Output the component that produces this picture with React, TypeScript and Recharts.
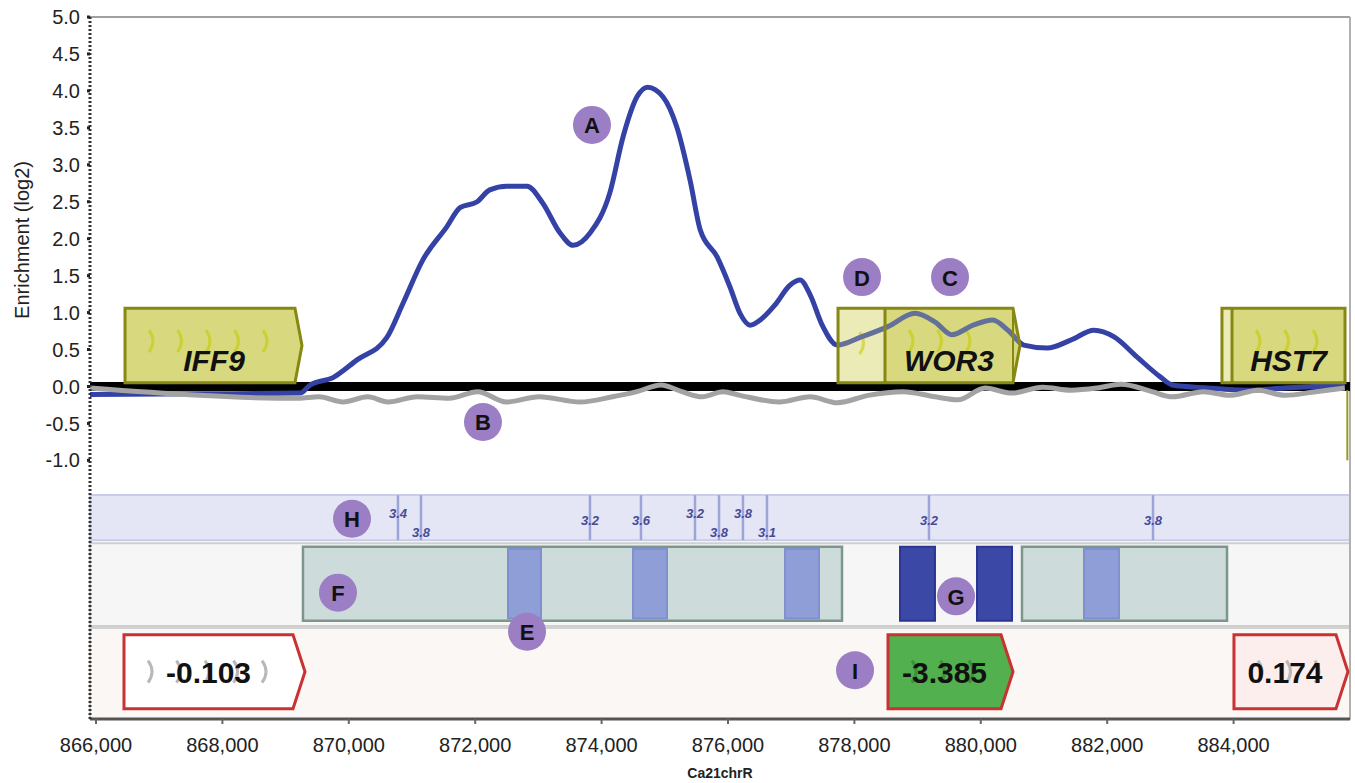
import React from "react";
import { ComposedChart, Line, XAxis, YAxis, ReferenceArea, ReferenceLine, ReferenceDot } from "recharts";

const FONT = '"Liberation Sans", Arial, sans-serif';

// genomic window shown (bp)
const X_MIN = 865905;
const X_MAX = 885842;
const xTicks = [866000, 868000, 870000, 872000, 874000, 876000, 878000, 880000, 882000, 884000];
const yTicks = [-1, -0.5, 0, 0.5, 1, 1.5, 2, 2.5, 3, 3.5, 4, 4.5, 5];

// ChIP enrichment, blue trace (A)
const enrichment = [
  { x: 865905, v: -0.11 }, { x: 867650, v: -0.1 }, { x: 869230, v: -0.09 }, { x: 869390, v: 0.02 },
  { x: 869750, v: 0.12 }, { x: 870130, v: 0.36 }, { x: 870600, v: 0.66 }, { x: 870860, v: 1.13 },
  { x: 871170, v: 1.71 }, { x: 871550, v: 2.16 }, { x: 871760, v: 2.42 }, { x: 872030, v: 2.5 },
  { x: 872230, v: 2.66 }, { x: 872500, v: 2.71 }, { x: 872820, v: 2.71 }, { x: 873070, v: 2.48 },
  { x: 873340, v: 2.08 }, { x: 873550, v: 1.91 }, { x: 873820, v: 2.08 }, { x: 874130, v: 2.62 },
  { x: 874340, v: 3.38 }, { x: 874560, v: 3.92 }, { x: 874730, v: 4.05 }, { x: 874970, v: 3.92 },
  { x: 875190, v: 3.51 }, { x: 875400, v: 2.79 }, { x: 875560, v: 2.12 }, { x: 875830, v: 1.75 },
  { x: 876030, v: 1.35 }, { x: 876190, v: 0.99 }, { x: 876350, v: 0.83 }, { x: 876510, v: 0.9 },
  { x: 876740, v: 1.1 }, { x: 876980, v: 1.37 }, { x: 877140, v: 1.44 }, { x: 877300, v: 1.24 },
  { x: 877490, v: 0.83 }, { x: 877730, v: 0.56 }, { x: 878110, v: 0.67 }, { x: 878530, v: 0.81 },
  { x: 878960, v: 0.99 }, { x: 879280, v: 0.87 }, { x: 879540, v: 0.7 }, { x: 879880, v: 0.83 },
  { x: 880190, v: 0.9 }, { x: 880430, v: 0.76 }, { x: 880680, v: 0.56 }, { x: 881050, v: 0.52 },
  { x: 881430, v: 0.63 }, { x: 881790, v: 0.76 }, { x: 882110, v: 0.67 }, { x: 882470, v: 0.4 },
  { x: 882840, v: 0.13 }, { x: 883030, v: 0.02 }, { x: 883580, v: -0.02 }, { x: 884200, v: -0.05 },
  { x: 884810, v: -0.02 }, { x: 885760, v: 0.02 },
];

// control trace, grey (B)
const control = [
  { x: 865905, v: -0.02 }, { x: 869200, v: -0.16 }, { x: 869530, v: -0.14 }, { x: 869910, v: -0.21 },
  { x: 870300, v: -0.14 }, { x: 870620, v: -0.21 }, { x: 871080, v: -0.14 }, { x: 871590, v: -0.16 },
  { x: 872040, v: -0.07 }, { x: 872490, v: -0.21 }, { x: 873010, v: -0.14 }, { x: 873660, v: -0.21 },
  { x: 874170, v: -0.14 }, { x: 874560, v: -0.07 }, { x: 874940, v: 0.02 }, { x: 875270, v: -0.07 },
  { x: 875590, v: -0.14 }, { x: 875920, v: -0.07 }, { x: 876190, v: -0.12 }, { x: 876810, v: -0.21 },
  { x: 877300, v: -0.14 }, { x: 877730, v: -0.22 }, { x: 878220, v: -0.12 }, { x: 878770, v: -0.07 },
  { x: 879280, v: -0.14 }, { x: 879640, v: -0.18 }, { x: 880070, v: -0.02 }, { x: 880490, v: -0.09 },
  { x: 880980, v: -0.01 }, { x: 881430, v: -0.05 }, { x: 881850, v: -0.02 }, { x: 882220, v: 0.03 },
  { x: 882710, v: -0.07 }, { x: 883030, v: -0.14 }, { x: 883520, v: -0.07 }, { x: 883940, v: -0.12 },
  { x: 884390, v: -0.05 }, { x: 884810, v: -0.12 }, { x: 885300, v: -0.07 }, { x: 885760, v: -0.02 },
];

const genes = [
  { name: "IFF9", start: 866459, end: 869259, utrEnd: 0 },
  { name: "WOR3", start: 877741, end: 880620, utrEnd: 878484 },
  { name: "HST7", start: 883816, end: 885763, utrEnd: 883975 },
];

// motif hits (H): position, score, label row
const motifs = [
  { pos: 870778, score: "3.4", row: 0 }, { pos: 871142, score: "3.8", row: 2 },
  { pos: 873816, score: "3.2", row: 1 }, { pos: 874623, score: "3.6", row: 1 },
  { pos: 875478, score: "3.2", row: 0 }, { pos: 875858, score: "3.8", row: 2 },
  { pos: 876237, score: "3.8", row: 0 }, { pos: 876617, score: "3.1", row: 2 },
  { pos: 879180, score: "3.2", row: 1 }, { pos: 882725, score: "3.8", row: 1 },
];

const regions = [
  { start: 869275, end: 877804 },
  { start: 880652, end: 883896 },
];
const bands = [
  { start: 872519, end: 873041 }, { start: 874497, end: 875035 },
  { start: 876902, end: 877440 }, { start: 881633, end: 882187 },
];
const peaks = [
  { start: 878722, end: 879275 },
  { start: 879940, end: 880494 },
];
const changes = [
  { start: 866443, end: 869307, value: -0.103 },
  { start: 878532, end: 880510, value: -3.385 },
  { start: 884006, end: 885810, value: 0.174 },
];

const callouts = [
  { id: "A", x: 873848, y: 3.54 }, { id: "B", x: 872123, y: -0.48 },
  { id: "C", x: 879513, y: 1.48 }, { id: "D", x: 878121, y: 1.48 },
  { id: "E", x: 872820, y: -3.32 }, { id: "F", x: 869829, y: -2.79 },
  { id: "G", x: 879608, y: -2.84 }, { id: "H", x: 870051, y: -1.79 },
  { id: "I", x: 878010, y: -3.84 },
];

// track layout, in axis units
const TRACK_H = [-1.47, -2.08];
const TRACK_F = [-2.12, -3.24];
const BOX_F = [-2.17, -3.17];
const TRACK_C = [-3.27, -4.5];
const BOX_C = [-3.36, -4.36];
const GENE_Y = [0.05, 1.06];
const LABEL_ROWS = [-1.72, -1.82, -1.98];

const GENE_FILL = "#d8d97e";
const GENE_LIGHT = "#f4f2d2";
const GENE_STROKE = "#878714";

function arrowPath(x: number, y: number, w: number, h: number, tip: number) {
  return `M${x},${y} L${x + w - tip},${y} L${x + w},${y + h / 2} L${x + w - tip},${y + h} L${x},${y + h} Z`;
}

function chevrons(x0: number, x1: number, cy: number, color: string) {
  const out = [];
  for (let cx = x0 + 26; cx <= x1 - 26; cx += 28.5) {
    out.push(
      <path key={cx} d={`M${cx - 2},${cy - 11} Q${cx + 6},${cy} ${cx - 2},${cy + 11}`} stroke={color} strokeWidth={3} fill="none" />
    );
  }
  return out;
}

function GeneShape(props: any) {
  const { x, y, width, height, gene, layer } = props;
  // genes running off the right edge of the window show no arrow tip
  const tip = gene.end > X_MAX - 300 ? 0 : 7;
  const utrX = gene.utrEnd ? x + ((gene.utrEnd - gene.start) / (gene.end - gene.start)) * width : x;
  const body = arrowPath(x, y, width, height, tip);
  if (layer === "base") {
    return (
      <g>
        <path d={body} fill={GENE_FILL} />
        {gene.utrEnd ? <rect x={x} y={y} width={utrX - x} height={height} fill={GENE_LIGHT} /> : null}
        {utrX - x > 30 ? chevrons(x + (utrX - x) / 2 - 26, x + (utrX - x) / 2 + 26, y + 35, "#d6d93a") : null}
        {chevrons(utrX, x + width, y + 33, "#c6cc14")}
      </g>
    );
  }
  const cx = gene.utrEnd ? (utrX + x + width - tip) / 2 : x + (width - tip) / 2 + 4;
  return (
    <g>
      <path d={body} fill={GENE_FILL} fillOpacity={0.3} stroke={GENE_STROKE} strokeWidth={3} />
      {gene.utrEnd ? <line x1={utrX} y1={y} x2={utrX} y2={y + height} stroke={GENE_STROKE} strokeWidth={3} /> : null}
      {gene.utrEnd && tip ? <line x1={x + width - tip} y1={y} x2={x + width - tip} y2={y + height} stroke={GENE_STROKE} strokeWidth={2} /> : null}
      <text x={cx} y={y + height - 12} textAnchor="middle" fontSize={30} fontWeight="bold" fontStyle="italic" fill="#111" fontFamily={FONT}>
        {gene.name}
      </text>
    </g>
  );
}

function ChangeShape(props: any) {
  const { x, y, width, height, item } = props;
  const tip = 12;
  const fill = item.value <= -1 ? "#52b04f" : item.value > 0 ? "#fdeeee" : "#ffffff";
  const chev = item.value <= -1 ? "#3f8f3c" : "#b8b8b8";
  return (
    <g>
      <path d={arrowPath(x, y, width, height, tip)} fill={fill} stroke="#c83232" strokeWidth={3} />
      {chevrons(x, x + width, y + height / 2, chev)}
      <text x={x + (width - tip) / 2} y={y + height / 2 + 11} textAnchor="middle" fontSize={30} fontWeight="bold" fill="#111" fontFamily={FONT}>
        {item.value.toFixed(3)}
      </text>
    </g>
  );
}

function YLabel() {
  return (
    <text x={22} y={240} transform="rotate(-90 22 240)" textAnchor="middle" dominantBaseline="central" fontSize={20} fill="#222" fontFamily={FONT}>
      Enrichment (log2)
    </text>
  );
}

function XLabel(props: any) {
  const vb = props.viewBox || { x: 90, width: 1260 };
  return (
    <text x={vb.x + vb.width / 2} y={778} textAnchor="middle" fontSize={14} fontWeight="bold" fill="#222" fontFamily={FONT}>
      Ca21chrR
    </text>
  );
}

export default function App() {
  return (
    <div style={{ position: "absolute", left: 0, top: 0, width: 1355, height: 783, background: "#fff", fontFamily: FONT }}>
      <ComposedChart width={1355} height={783} margin={{ top: 17, right: 5, bottom: 0, left: 0 }} style={{ fontFamily: FONT }}>
        <XAxis
          dataKey="x"
          type="number"
          domain={[X_MIN, X_MAX]}
          allowDataOverflow
          ticks={xTicks}
          tickFormatter={(v) => Number(v).toLocaleString("en-US")}
          tick={{ fontSize: 20, fill: "#222" }}
          tickSize={5}
          tickMargin={14}
          tickLine={{ stroke: "#666", strokeWidth: 2 }}
          axisLine={{ stroke: "#555", strokeWidth: 3 }}
          height={64}
          label={<XLabel />}
        />
        <YAxis
          type="number"
          domain={[-4.5, 5]}
          allowDataOverflow
          ticks={yTicks}
          tickFormatter={(v) => Number(v).toFixed(1)}
          tick={{ fontSize: 20, fill: "#222" }}
          tickSize={3}
          tickMargin={7}
          tickLine={{ stroke: "#222", strokeWidth: 3 }}
          axisLine={{ stroke: "#333", strokeWidth: 3, strokeDasharray: "2 2" }}
          width={90}
          label={<YLabel />}
        />

        {/* track backgrounds */}
        <ReferenceArea x1={X_MIN} x2={X_MAX} y1={TRACK_H[0]} y2={TRACK_H[1]} fill="#e4e6f6" stroke="#c9cce8" strokeWidth={2} fillOpacity={1} zIndex={10} />
        <ReferenceArea x1={X_MIN} x2={X_MAX} y1={TRACK_F[0]} y2={TRACK_F[1]} fill="#f6f6f6" stroke="#cfcfcf" strokeWidth={2} fillOpacity={1} zIndex={10} />
        <ReferenceArea x1={X_MIN} x2={X_MAX} y1={TRACK_C[0]} y2={TRACK_C[1]} fill="#faf7f5" stroke="#d2d2d2" strokeWidth={2} fillOpacity={1} zIndex={10} />
        <ReferenceLine y={5} stroke="#a0a0a0" strokeWidth={2} zIndex={12} />
        <ReferenceLine x={X_MAX} stroke="#b0b0b0" strokeWidth={2} zIndex={12} />

        {/* motif hits */}
        {motifs.map((m) => (
          <ReferenceLine
            key={"m" + m.pos}
            segment={[{ x: m.pos, y: TRACK_H[0] }, { x: m.pos, y: TRACK_H[1] }]}
            stroke="#9ea3d8"
            strokeWidth={2.5}
            zIndex={20}
          />
        ))}
        {motifs.map((m) => (
          <ReferenceDot
            key={"ml" + m.pos}
            x={m.pos}
            y={LABEL_ROWS[m.row]}
            r={1}
            zIndex={30}
            shape={(p: any) => (
              <text x={p.cx} y={p.cy} textAnchor="middle" dominantBaseline="central" fontSize={13} fontWeight="bold" fontStyle="italic" fill="#464b96" fontFamily={FONT}>
                {m.score}
              </text>
            )}
          />
        ))}

        {/* bound regions, bands, peaks */}
        {regions.map((r) => (
          <ReferenceArea key={"r" + r.start} x1={r.start} x2={r.end} y1={BOX_F[0]} y2={BOX_F[1]} fill="#cddcda" fillOpacity={1} stroke="#7d968c" strokeWidth={2.5} zIndex={20} />
        ))}
        {bands.map((b) => (
          <ReferenceArea key={"b" + b.start} x1={b.start} x2={b.end} y1={BOX_F[0] - 0.03} y2={BOX_F[1] + 0.03} fill="#8f9ed6" fillOpacity={1} stroke="#7f8fd0" strokeWidth={2} zIndex={25} />
        ))}
        {peaks.map((b) => (
          <ReferenceArea key={"p" + b.start} x1={b.start} x2={b.end} y1={BOX_F[0]} y2={BOX_F[1]} fill="#3c48a5" fillOpacity={1} stroke="#2c3690" strokeWidth={2} zIndex={25} />
        ))}

        {/* expression change */}
        {changes.map((c) => (
          <ReferenceArea
            key={"c" + c.start}
            x1={c.start}
            x2={c.end}
            y1={BOX_C[0]}
            y2={BOX_C[1]}
            zIndex={20}
            shape={(p: any) => <ChangeShape {...p} item={c} />}
          />
        ))}

        <ReferenceLine y={0} stroke="#000" strokeWidth={9} zIndex={40} />

        {genes.map((g) => (
          <ReferenceArea
            key={"gb" + g.name}
            x1={g.start}
            x2={g.end}
            y1={GENE_Y[0]}
            y2={GENE_Y[1]}
            zIndex={50}
            shape={(p: any) => <GeneShape {...p} gene={g} layer="base" />}
          />
        ))}

        <Line data={enrichment} dataKey="v" type="monotone" stroke="#3442a6" strokeWidth={5} dot={false} activeDot={false} isAnimationActive={false} zIndex={60} />
        <Line data={control} dataKey="v" type="monotone" stroke="#a3a3a3" strokeWidth={5} dot={false} activeDot={false} isAnimationActive={false} zIndex={61} />

        {genes.map((g) => (
          <ReferenceArea
            key={"go" + g.name}
            x1={g.start}
            x2={g.end}
            y1={GENE_Y[0]}
            y2={GENE_Y[1]}
            zIndex={70}
            shape={(p: any) => <GeneShape {...p} gene={g} layer="over" />}
          />
        ))}
        <ReferenceLine segment={[{ x: 885800, y: -0.05 }, { x: 885800, y: -1.0 }]} stroke="#9a9a20" strokeWidth={2} zIndex={70} />

        {callouts.map((c) => (
          <ReferenceDot
            key={"co" + c.id}
            x={c.x}
            y={c.y}
            r={19}
            zIndex={80}
            shape={(p: any) => (
              <g>
                <circle cx={p.cx} cy={p.cy} r={19} fill="#9b7ec3" />
                <text x={p.cx} y={p.cy + 1} textAnchor="middle" dominantBaseline="central" fontSize={22} fontWeight="bold" fill="#111" fontFamily={FONT}>
                  {c.id}
                </text>
              </g>
            )}
          />
        ))}
      </ComposedChart>
    </div>
  );
}
